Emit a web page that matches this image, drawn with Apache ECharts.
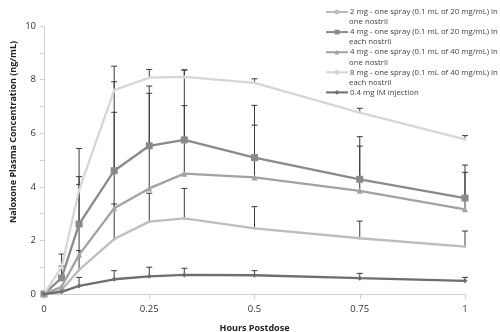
<!DOCTYPE html>
<html><head><meta charset="utf-8">
<script src="https://cdn.jsdelivr.net/npm/echarts@6/dist/echarts.min.js"></script>
<style>html,body{margin:0;padding:0;background:#fff}#c{width:500px;height:332px}</style>
</head><body><div id="c"></div>
<script>
const hours = [0, 0.0417, 0.0833, 0.1667, 0.25, 0.3333, 0.5, 0.75, 1];
const names = [
  "2 mg - one spray (0.1 mL of 20 mg/mL) in one nostril",
  "4 mg - one spray (0.1 mL of 20 mg/mL) in each nostril",
  "4 mg - one spray (0.1 mL of 40 mg/mL) in one nostril",
  "8 mg - one spray (0.1 mL of 40 mg/mL) in each nostril",
  "0.4 mg IM injection"
];
const legendLine1 = [
  "2 mg - one spray (0.1 mL of 20 mg/mL) in",
  "4 mg - one spray (0.1 mL of 20 mg/mL) in",
  "4 mg - one spray (0.1 mL of 40 mg/mL) in",
  "8 mg - one spray (0.1 mL of 40 mg/mL) in",
  "0.4 mg IM injection"
];
const legendLine2 = ["one nostril", "each nostril", "one nostril", "each nostril"];
const mean2mgOne   = [0, 0.15, 0.90, 2.05, 2.70, 2.82, 2.45, 2.08, 1.77];
const upper2mgOne  = [null, null, 1.62, 3.36, 3.76, 3.94, 3.26, 2.72, 2.35];
const mean4mgEach  = [0, 0.60, 2.61, 4.60, 5.53, 5.75, 5.09, 4.28, 3.58];
const upper4mgEach = [null, 1.49, 4.38, 8.50, 7.76, 8.36, 7.04, 5.87, 4.81];
const mean4mgOne   = [0, 0.27, 1.46, 3.20, 3.94, 4.49, 4.35, 3.85, 3.16];
const upper4mgOne  = [null, null, 4.09, 6.78, 7.49, 7.03, 6.30, 5.52, 4.54];
const mean8mgEach  = [0, 1.00, 3.88, 7.61, 8.07, 8.10, 7.88, 6.77, 5.77];
const upper8mgEach = [null, 1.04, 5.43, 7.92, 8.38, 8.36, 8.03, 6.93, 5.91];
const meanIM       = [0, 0.08, 0.30, 0.55, 0.66, 0.71, 0.70, 0.59, 0.49];
const upperIM      = [null, null, 0.62, 0.87, 1.00, 0.96, 0.87, 0.77, 0.62];
const yTicks = [0, 2, 4, 6, 8, 10];

const means = [mean2mgOne, mean4mgEach, mean4mgOne, mean8mgEach, meanIM];
const uppers = [upper2mgOne, upper4mgEach, upper4mgOne, upper8mgEach, upperIM];
const colors = ['#bdbdbd', '#8a8a8a', '#a2a2a2', '#d6d6d6', '#6e6e6e'];
const symbols = ['none', 'rect', 'triangle', 'none', 'diamond'];
const symSizes = [4, 7, 6, 4, 5];
const font = 'Open Sans';

const series = [];
means.forEach((m, i) => {
  const errData = [];
  hours.forEach((h, j) => { if (uppers[i][j] != null) errData.push([h, m[j], uppers[i][j]]); });
  series.push({
    name: 'err' + i, type: 'custom', z: 1, silent: true,
    data: errData,
    renderItem: (params, api) => {
      const p0 = api.coord([api.value(0), api.value(1)]);
      const p1 = api.coord([api.value(0), api.value(2)]);
      const st = {stroke: '#3a3a3a', lineWidth: 1};
      return {type: 'group', children: [
        {type: 'line', shape: {x1: p0[0], y1: p0[1], x2: p1[0], y2: p1[1]}, style: st},
        {type: 'line', shape: {x1: p1[0] - 3, y1: p1[1], x2: p1[0] + 3, y2: p1[1]}, style: st}
      ]};
    }
  });
});
means.forEach((m, i) => {
  series.push({
    name: names[i], type: 'line', z: 3 + i,
    data: hours.map((h, j) => [h, m[j]]),
    symbol: symbols[i] === 'none' ? 'circle' : symbols[i],
    showSymbol: true,
    symbolSize: symbols[i] === 'none' ? 3 : symSizes[i],
    lineStyle: {color: colors[i], width: 2.3},
    itemStyle: {color: colors[i]},
    emphasis: {disabled: true}
  });
});

const graphics = legendLine2.map((t, i) => ({
  type: 'text', left: 349, top: 17.5 + i * 20.4,
  style: {text: t, fontFamily: font, fontSize: 7.8, fill: '#404040'}
}));
graphics.push({
  type: 'text', rotation: Math.PI / 2, x: 13, y: 132,
  style: {text: 'Naloxone Plasma Concentration (ng/mL)', fontFamily: font, fontSize: 9, fontWeight: 'bold', fill: '#222', align: 'center', verticalAlign: 'middle'}
});

const chart = echarts.init(document.getElementById('c'), null, {renderer: 'canvas'});
chart.setOption({
  animation: false,
  backgroundColor: '#fff',
  grid: {left: 44, right: 35, top: 26, bottom: 38, containLabel: false, outerBoundsMode: 'none'},
  legend: {
    orient: 'vertical', left: 325, top: 8, padding: 0,
    data: names,
    itemWidth: 22, itemHeight: 6, itemGap: 12.1,
    formatter: n => legendLine1[names.indexOf(n)],
    textStyle: {fontFamily: font, fontSize: 7.8, color: '#404040', padding: [0, 0, 0, -3]},
    selectedMode: false
  },
  xAxis: {
    type: 'value', min: 0, max: 1, interval: 0.25,
    name: 'Hours Postdose', nameLocation: 'middle', nameGap: 30,
    nameTextStyle: {fontFamily: font, fontSize: 9, fontWeight: 'bold', color: '#222'},
    axisLine: {lineStyle: {color: '#d0d0d0'}},
    axisTick: {show: true, length: 5, lineStyle: {color: '#d0d0d0'}},
    axisLabel: {fontFamily: font, fontSize: 9.5, color: '#333', margin: 10},
    splitLine: {show: false}
  },
  yAxis: {
    type: 'value', min: 0, max: 10, interval: 1,
    axisLine: {show: true, lineStyle: {color: '#d0d0d0'}},
    axisTick: {show: true, length: 4, lineStyle: {color: '#d0d0d0'}},
    axisLabel: {fontFamily: font, fontSize: 9.5, color: '#333', margin: 8,
      formatter: v => yTicks.includes(v) ? String(v) : ''},
    splitLine: {show: false}
  },
  graphic: graphics,
  series: series
});
</script></body></html>
